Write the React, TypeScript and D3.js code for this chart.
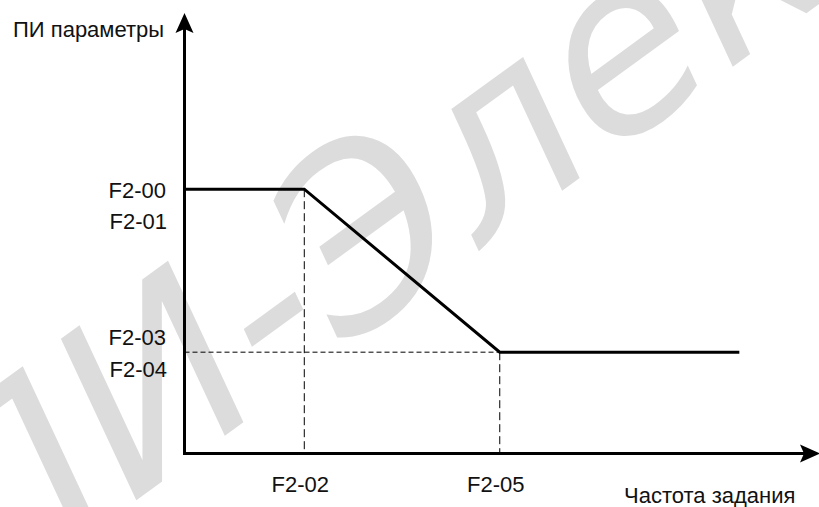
import React from "react";
import * as d3 from "d3";

const W = 819;
const H = 507;

// piecewise PI parameter curve (abstract units)
const curveX = [0, 19, 50, 88];
const curveY = [60, 60, 23, 23];

// guide lines (dashed) positions
const breakX = [19, 50];
const breakXLabels = ["F2-02", "F2-05"];
const levelY = [60, 23];
const levelLabelsTop = ["F2-00", "F2-03"];
const levelLabelsBottom = ["F2-01", "F2-04"];

const yTitle = "ПИ параметры";
const xTitle = "Частота задания";
const watermark = "ПИ-Электро";

export default function App() {
  const x = d3.scaleLinear().domain([0, 100]).range([184.5, 815]);
  const y = d3.scaleLinear().domain([0, 100]).range([453.5, 13]);
  const x0 = x(0);
  const y0 = y(0);
  const yTop = y(100);
  const line = d3
    .line<number>()
    .x((_, i) => x(curveX[i]))
    .y((d) => y(d));
  const font = "'Liberation Sans', Arial, sans-serif";
  const fs = 22;
  // label offsets relative to their level line: [top label, bottom label]
  const labelOffsets = [
    [9, 40],
    [-7, 25],
  ];

  return (
    <svg
      width={W}
      height={H}
      style={{ position: "absolute", left: 0, top: 0, background: "#fff" }}
    >
      {/* watermark */}
      <text
        x={0}
        y={0}
        transform="translate(-15,610) rotate(-36)"
        fontFamily="'DejaVu Sans', sans-serif"
        fontStyle="italic"
        fontSize={240}
        fill="#dcdcdc"
      >
        {watermark}
      </text>

      {/* dashed guides */}
      {breakX.map((bx, i) => (
        <line
          key={"v" + i}
          x1={x(bx)}
          x2={x(bx)}
          y1={y(levelY[i])}
          y2={y0}
          stroke="#000"
          strokeWidth={1}
          strokeDasharray="8,4"
        />
      ))}
      <line
        x1={x0}
        x2={x(breakX[1])}
        y1={y(levelY[1])}
        y2={y(levelY[1])}
        stroke="#000"
        strokeWidth={1}
        strokeDasharray="5,3"
      />

      {/* curve */}
      <path
        d={line(curveY) || ""}
        fill="none"
        stroke="#000"
        strokeWidth={3}
        strokeLinejoin="miter"
      />

      {/* axes */}
      <line x1={x0} x2={x0} y1={y0 + 1.5} y2={yTop + 14} stroke="#000" strokeWidth={3} />
      <line x1={x0 - 1.5} x2={805} y1={y0} y2={y0} stroke="#000" strokeWidth={3} />
      <path
        d={`M${x0},${yTop} L${x0 + 9},${yTop + 20} L${x0},${yTop + 16} L${x0 - 9},${yTop + 20} Z`}
        fill="#000"
      />
      <path
        d={`M820,${y0} L800,${y0 - 9} L804,${y0} L800,${y0 + 9} Z`}
        fill="#000"
      />

      {/* y level labels */}
      {levelY.map((ly, i) => (
        <g key={"l" + i} fontFamily={font} fontSize={fs} fill="#111" textAnchor="end">
          <text x={166} y={y(ly) + labelOffsets[i][0]}>
            {levelLabelsTop[i]}
          </text>
          <text x={167} y={y(ly) + labelOffsets[i][1]}>
            {levelLabelsBottom[i]}
          </text>
        </g>
      ))}

      {/* x break labels */}
      {breakX.map((bx, i) => (
        <text
          key={"b" + i}
          x={x(bx) - 4}
          y={492}
          fontFamily={font}
          fontSize={fs}
          fill="#111"
          textAnchor="middle"
        >
          {breakXLabels[i]}
        </text>
      ))}

      <text x={13} y={37} fontFamily={font} fontSize={fs} fill="#111">
        {yTitle}
      </text>
      <text x={624} y={503} fontFamily={font} fontSize={fs} fill="#111">
        {xTitle}
      </text>
    </svg>
  );
}
